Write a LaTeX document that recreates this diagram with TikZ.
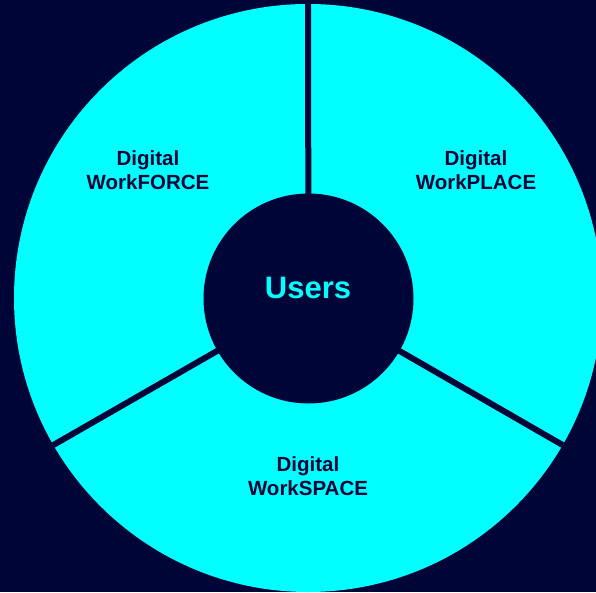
\documentclass[tikz,border=0pt]{standalone}
\usepackage{fontspec}
\setmainfont{Liberation Sans}
\definecolor{navy}{RGB}{0,5,56}
\definecolor{aqua}{RGB}{0,255,255}
\tikzset{
  ring/.style={circle, fill=aqua, minimum size=588pt, inner sep=0pt},
  hubnode/.style={circle, fill=navy, minimum size=210pt, inner sep=0pt, text=aqua,
    font=\bfseries\fontsize{31}{36}\selectfont},
  divider/.style={draw=navy, line width=6pt},
  seglabel/.style={align=center, inner sep=0pt, text=navy,
    font=\bfseries\fontsize{20.5}{24}\selectfont},
}
\begin{document}
\begin{tikzpicture}[x=1pt,y=1pt]
\fill[navy] (0,0) rectangle (596,592);
\useasboundingbox (0,0) rectangle (596,592);
\node[ring] (outer) at (308,294) {};
\coordinate (c) at (308.5,293.5);
\draw[divider] (c) -- (outer.90);
\draw[divider] (c) -- (outer.210);
\draw[divider] (c) -- (outer.330);
\node[hubnode] (hub) at (c) {};
\node[text=aqua, font=\bfseries\fontsize{31}{36}\selectfont, anchor=base] (users) at (308,293.8) {Users};
\node[seglabel] (force) at (148,422.3) {Digital\\WorkFORCE};
\node[seglabel] (place) at (476,422.3) {Digital\\WorkPLACE};
\node[seglabel] (space) at (308,116) {Digital\\WorkSPACE};
\end{tikzpicture}
\end{document}
